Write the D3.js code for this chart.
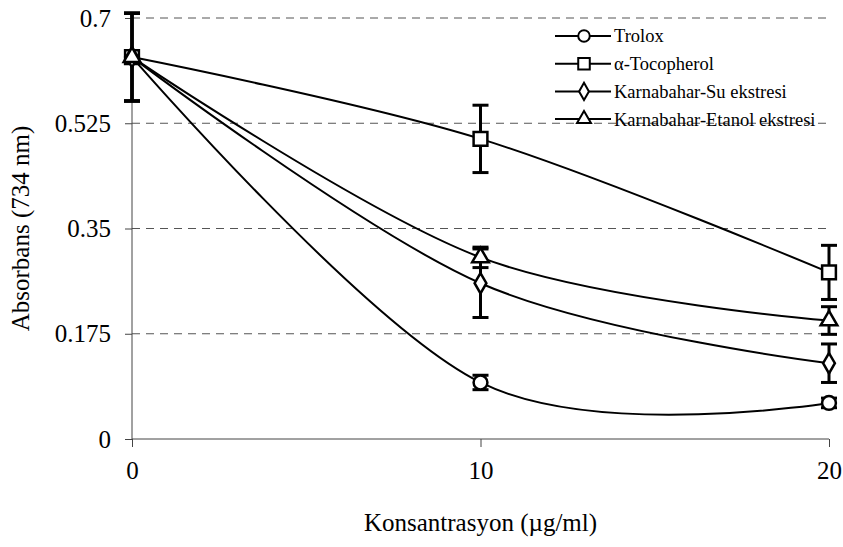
<!DOCTYPE html>
<html>
<head>
<meta charset="utf-8">
<script src="https://cdn.jsdelivr.net/npm/d3@7/dist/d3.min.js"></script>
<style>
  html, body { margin: 0; padding: 0; background: #fff; }
  svg { display: block; font-family: "Liberation Serif", "Times New Roman", serif; }
</style>
</head>
<body>
<svg id="chart" width="843" height="547"></svg>
<script>
// Concentrations (µg/ml)
const concentrations = [0, 10, 20];

// Series names, in legend order
const seriesNames = ["Trolox", "α-Tocopherol", "Karnabahar-Su ekstresi", "Karnabahar-Etanol ekstresi"];
const seriesSymbols = ["circle", "square", "diamond", "triangle"];

// Mean absorbance (734 nm) per concentration
const troloxValues     = [0.635, 0.094, 0.060];
const tocopherolValues = [0.635, 0.499, 0.277];
const suValues         = [0.635, 0.259, 0.126];
const etanolValues     = [0.635, 0.302, 0.197];

// Standard deviations (error bars)
const troloxErrors     = [0.073, 0.012, 0.008];
const tocopherolErrors = [0.073, 0.056, 0.045];
const suErrors         = [0.073, 0.057, 0.032];
const etanolErrors     = [0.073, 0.017, 0.023];

// Axis ticks
const xTicks = [0, 10, 20];
const yTicks = [0, 0.175, 0.35, 0.525, 0.7];

const series = [
  { name: seriesNames[0], symbol: seriesSymbols[0], values: troloxValues, errors: troloxErrors },
  { name: seriesNames[1], symbol: seriesSymbols[1], values: tocopherolValues, errors: tocopherolErrors },
  { name: seriesNames[2], symbol: seriesSymbols[2], values: suValues, errors: suErrors },
  { name: seriesNames[3], symbol: seriesSymbols[3], values: etanolValues, errors: etanolErrors }
];

const svg = d3.select("#chart");
const margin = { left: 132, right: 14, top: 18, bottom: 108 };
const W = 843, H = 547;
const labelSize = "25px";

const x = d3.scaleLinear().domain([0, 20]).range([margin.left, W - margin.right]);
const y = d3.scaleLinear().domain([0, 0.7]).range([H - margin.bottom, margin.top]);

// Dashed horizontal gridlines
svg.append("g")
  .selectAll("line")
  .data(yTicks.filter(d => d > 0))
  .join("line")
  .attr("x1", x(0)).attr("x2", x(20))
  .attr("y1", d => y(d)).attr("y2", d => y(d))
  .attr("stroke", "#555")
  .attr("stroke-width", 1)
  .attr("stroke-dasharray", "8,6");

// Axes
const yAxis = svg.append("g")
  .attr("transform", `translate(${x(0)},0)`)
  .call(d3.axisLeft(y).tickValues(yTicks).tickSize(7).tickPadding(14)
    .tickFormat(d => d === 0 ? "0" : String(d)));
const xAxis = svg.append("g")
  .attr("transform", `translate(0,${y(0)})`)
  .call(d3.axisBottom(x).tickValues(xTicks).tickSize(8).tickPadding(14));

[yAxis, xAxis].forEach(g => {
  g.select(".domain").attr("stroke", "#444").attr("stroke-width", 1);
  g.selectAll(".tick line").attr("stroke", "#444").attr("stroke-width", 1);
  g.selectAll(".tick text")
    .attr("fill", "#000")
    .style("font-family", "'Liberation Serif', serif")
    .style("font-size", labelSize);
});
// Plain axis lines without outer end caps
yAxis.select(".domain").attr("d", `M0,${y(0.7)}V${y(0)}`);
xAxis.select(".domain").attr("d", `M${x(0)},0H${x(20)}`);

// Axis titles
svg.append("text")
  .attr("transform", `translate(29,${(y(0) + y(0.7)) / 2}) rotate(-90)`)
  .attr("text-anchor", "middle")
  .style("font-size", labelSize)
  .text("Absorbans (734 nm)");

svg.append("text")
  .attr("x", x(10)).attr("y", 531)
  .attr("text-anchor", "middle")
  .style("font-size", labelSize)
  .text("Konsantrasyon (µg/ml)");

// Symbol paths
const symbolType = {
  circle: d3.symbolCircle,
  square: d3.symbolSquare,
  diamond: d3.symbolDiamond,
  triangle: d3.symbolTriangle
};
const symbolSize = { circle: 150, square: 190, diamond: 120, triangle: 120 };
function symbolPath(name, scale) {
  return d3.symbol().type(symbolType[name]).size(symbolSize[name] * scale)();
}

// Error bars
const errG = svg.append("g");
series.forEach(s => {
  concentrations.forEach((c, i) => {
    const v = s.values[i], e = s.errors[i];
    const cx = x(c);
    errG.append("line")
      .attr("x1", cx).attr("x2", cx)
      .attr("y1", y(v - e)).attr("y2", y(v + e))
      .attr("stroke", "#000").attr("stroke-width", 3);
    [v - e, v + e].forEach(t => {
      errG.append("line")
        .attr("x1", cx - 8).attr("x2", cx + 8)
        .attr("y1", y(t)).attr("y2", y(t))
        .attr("stroke", "#000").attr("stroke-width", 3);
    });
  });
});

// Smoothed series lines
const line = d3.line()
  .x((d, i) => x(concentrations[i]))
  .y(d => y(d))
  .curve(d3.curveCardinal.tension(0));

svg.append("g")
  .selectAll("path")
  .data(series)
  .join("path")
  .attr("d", s => line(s.values))
  .attr("fill", "none")
  .attr("stroke", "#000")
  .attr("stroke-width", 2);

// Markers
series.forEach(s => {
  svg.append("g")
    .selectAll("path")
    .data(s.values)
    .join("path")
    .attr("transform", (d, i) => `translate(${x(concentrations[i])},${y(d)})`)
    .attr("d", symbolPath(s.symbol, 1))
    .attr("fill", "#fff")
    .attr("stroke", "#000")
    .attr("stroke-width", 2.5);
});

// Legend
const legend = svg.append("g").attr("transform", "translate(555,36)");
series.forEach((s, i) => {
  const g = legend.append("g").attr("transform", `translate(0,${i * 27.7})`);
  g.append("line")
    .attr("x1", 0).attr("x2", 56)
    .attr("y1", 0).attr("y2", 0)
    .attr("stroke", "#000").attr("stroke-width", 2);
  g.append("path")
    .attr("transform", "translate(29,0)")
    .attr("d", symbolPath(s.symbol, 0.7))
    .attr("fill", "#fff")
    .attr("stroke", "#000")
    .attr("stroke-width", 2);
  g.append("text")
    .attr("x", 59).attr("y", 0).attr("dy", "0.35em")
    .style("font-size", "18.5px")
    .text(s.name);
});
</script>
</body>
</html>
